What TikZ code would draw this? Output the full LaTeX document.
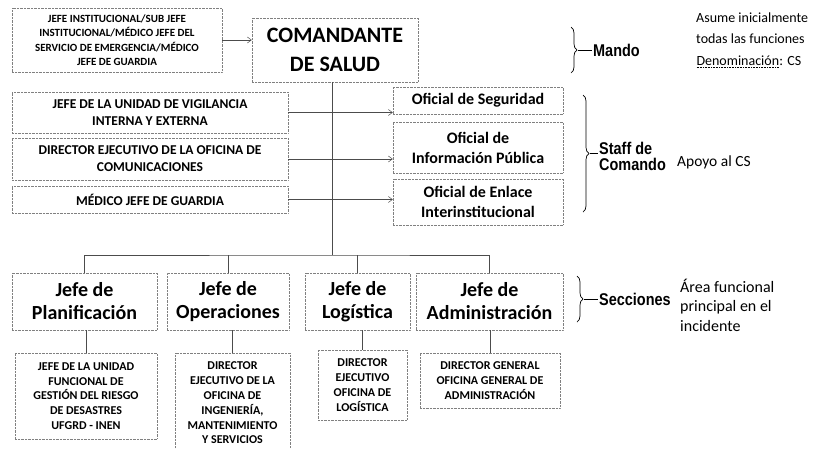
\documentclass[tikz,border=0pt]{standalone}
\usepackage{fontspec}
\setmainfont{Carlito}
\newfontfamily\grpfont[FakeStretch=0.85]{Liberation Sans}
\usetikzlibrary{positioning,arrows.meta,decorations.pathreplacing}
\tikzset{
	>={Straight Barb[length=4pt,width=6pt]},
}
\newcommand\dotunder[1]{\tikz[baseline=(w.base)]{\node[inner sep=0pt,outer sep=0pt](w){#1};\draw[densely dotted,line width=0.6pt]([yshift=-2pt]w.base west)--([yshift=-2pt]w.base east);}}

\begin{document}
\begin{tikzpicture}[x=1pt,y=-1pt,
		box/.style={rectangle, draw=black!50, densely dotted, align=center, inner sep=2pt},
		capsbox/.style={box, font=\fontsize{11}{14.5}\selectfont\bfseries},
		staffbox/.style={box, font=\fontsize{13.5}{17}\selectfont\bfseries},
		offbox/.style={box, font=\fontsize{16}{20}\selectfont\bfseries},
		secbox/.style={box, minimum height=57, font=\fontsize{20}{23}\selectfont\bfseries},
		subbox/.style={box, font=\fontsize{12}{14.8}\selectfont\bfseries},
		link/.style={draw=black!70, line width=0.5pt},
		brc/.style={draw, line width=0.7pt, decorate, decoration={brace, amplitude=6pt}},
		grp/.style={font=\fontsize{17}{16}\grpfont\bfseries, anchor=west, align=left, inner sep=1pt},
		note/.style={font=\fontsize{14}{21.5}\selectfont, anchor=west, align=left, inner sep=0pt},
	]
	\useasboundingbox (0,0) rectangle (815,448);
	% mando
	\node[capsbox, minimum width=210, minimum height=64] (inst) at (117,40)
		{JEFE INSTITUCIONAL/SUB JEFE\\INSTITUCIONAL/MÉDICO JEFE DEL\\SERVICIO DE EMERGENCIA/MÉDICO\\JEFE DE GUARDIA};
	\node[box, minimum width=166, minimum height=64, font=\fontsize{22}{29}\selectfont\bfseries] (cmd) at (335,50)
		{COMANDANTE\\DE SALUD};
	\draw[link,->] (inst.east) -- (inst.east -| cmd.west);
	% staff de comando
	\node[staffbox, minimum width=276, minimum height=41] (vig) at (150,112.5) {JEFE DE LA UNIDAD DE VIGILANCIA\\INTERNA Y EXTERNA};
	\node[staffbox, minimum width=276, minimum height=42] (dir) at (150,159) {DIRECTOR EJECUTIVO DE LA OFICINA DE\\COMUNICACIONES};
	\node[staffbox, minimum width=276, minimum height=27] (med) at (150,199.5) {MÉDICO JEFE DE GUARDIA};
	\node[offbox, minimum width=170, minimum height=27] (seg) at (478,100.5) {Oficial de Seguridad};
	\node[offbox, minimum width=170, minimum height=51] (info) at (478,147.5) {Oficial de\\Información Pública};
	\node[offbox, minimum width=170, minimum height=46] (enl) at (478,202) {Oficial de Enlace\\Interinstitucional};
	\draw[link,->] (vig.east) -- (vig.east -| seg.west);
	\draw[link,->] (dir.east) -- (dir.east -| info.west);
	\draw[link,->] (med.east) -- (med.east -| enl.west);
	% secciones
	\node[secbox, minimum width=145] (plan) at (84.5,301.5) {Jefe de\\Planificación};
	\node[secbox, minimum width=122] (ops) at (228,301.5) {Jefe de\\Operaciones};
	\node[secbox, minimum width=105] (log) at (357.5,301.5) {Jefe de\\Logística};
	\node[secbox, minimum width=147] (adm) at (489.5,301.5) {Jefe de\\Administración};
	\coordinate (hub) at (332,255);
	\draw[link] (cmd.south -| hub) -- (hub);
	\draw[link] (plan.north) |- (hub) -| (adm.north);
	\draw[link] (ops.north) -- (ops.north |- hub);
	\draw[link] (log.north) -- (log.north |- hub);
	% responsables
	\node[subbox, minimum width=142, minimum height=86] (plansub) at (86,396)
		{JEFE DE LA UNIDAD\\FUNCIONAL DE\\GESTIÓN DEL RIESGO\\DE DESASTRES\\UFGRD - INEN};
	\node[subbox, minimum width=115, minimum height=100] (opssub) at (232.5,403)
		{DIRECTOR\\EJECUTIVO DE LA\\OFICINA DE\\INGENIERÍA,\\MANTENIMIENTO\\Y SERVICIOS};
	\node[subbox, minimum width=89, minimum height=70] (logsub) at (362.5,385)
		{DIRECTOR\\EJECUTIVO\\OFICINA DE\\LOGÍSTICA};
	\node[subbox, minimum width=140, minimum height=55] (admsub) at (490,380.5)
		{DIRECTOR GENERAL\\OFICINA GENERAL DE\\ADMINISTRACIÓN};
	\draw[link] (plan.south -| plansub.north) -- (plansub.north);
	\draw[link] (ops.south -| opssub.north) -- (opssub.north);
	\draw[link] (log.south -| logsub.north) -- (logsub.north);
	\draw[link] (adm.south -| admsub.north) -- (admsub.north);
	% llaves
	\draw[brc] (571,27) -- (571,73);
	\coordinate (mtip) at (578,50);
	\node[grp] (mando) at (592,50) {Mando};
	\draw[line width=0.7pt] (mtip) -- (mando.west);
	\node[note] (mnote) at (696,40) {Asume inicialmente\\todas las funciones\\\dotunder{Denominación}: CS};
	\draw[brc] (583,95) -- (583,212);
	\coordinate (stip) at (590,153.5);
	\node[grp] (staff) at (598,156) {Staff de\\Comando};
	\draw[line width=0.7pt] (stip) -- (stip -| staff.west);
	\node[note, font=\fontsize{15.5}{20}\selectfont] (snote) at (677,162) {Apoyo al CS};
	\draw[brc] (577,276) -- (577,322);
	\coordinate (ctip) at (584,299);
	\node[grp] (secc) at (598,299) {Secciones};
	\draw[line width=0.7pt] (ctip) -- (secc.west);
	\node[note, font=\fontsize{16}{19.5}\selectfont] (cnote) at (680,305) {Área funcional\\principal en el\\incidente};
\end{tikzpicture}
\end{document}
